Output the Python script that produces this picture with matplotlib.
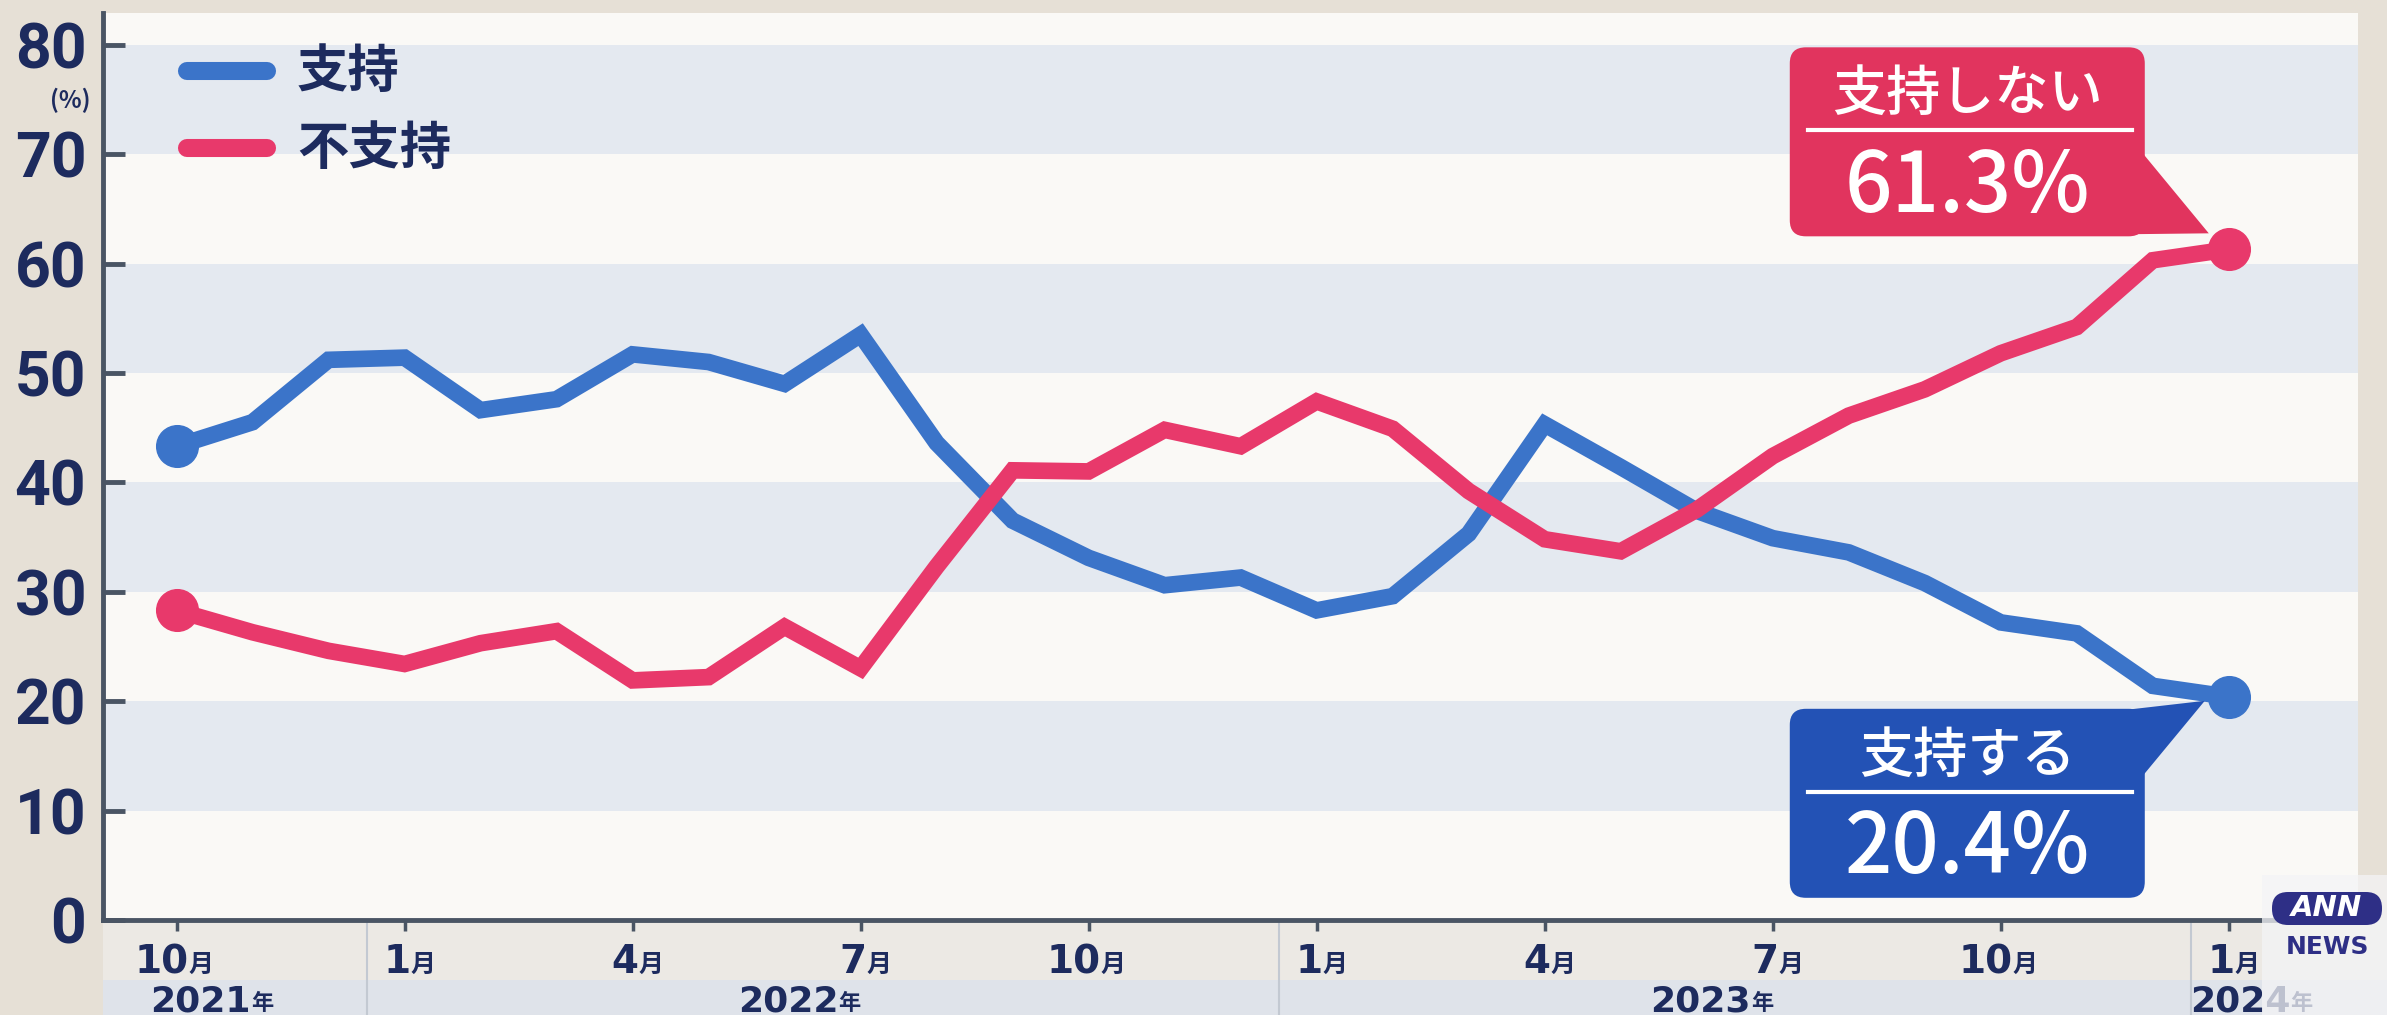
import numpy as np
import matplotlib
matplotlib.use("Agg")
import matplotlib.pyplot as plt
from matplotlib.lines import Line2D
from matplotlib.patches import FancyBboxPatch, Polygon, Rectangle
from matplotlib.transforms import IdentityTransform, blended_transform_factory

plt.rcParams['font.family'] = ['Noto Sans CJK JP', 'DejaVu Sans']

# monthly survey, Oct 2021 .. Jan 2024
month_nums = [10, 11, 12,
              1, 2, 3, 4, 5, 6, 7, 8, 9, 10, 11, 12,
              1, 2, 3, 4, 5, 6, 7, 8, 9, 10, 11, 12,
              1]
year_names = ["2021", "2022", "2023", "2024"]

support = [43.3, 45.5, 51.2, 51.4, 46.6, 47.6, 51.7, 51.0, 49.0, 53.5,
           43.6, 36.5, 33.1, 30.6, 31.3, 28.3, 29.6, 35.3, 45.3, 41.4,
           37.4, 34.9, 33.6, 30.8, 27.2, 26.2, 21.4, 20.4]
nonsupport = [28.3, 26.3, 24.6, 23.4, 25.3, 26.4, 21.9, 22.2, 26.8, 23.0,
              32.3, 41.1, 41.0, 44.8, 43.3, 47.4, 44.9, 39.2, 34.8, 33.7,
              37.5, 42.4, 46.1, 48.5, 51.8, 54.2, 60.3, 61.3]

series_names = ["支持", "不支持"]
callout_titles = ["支持する", "支持しない"]

BLUE = '#3b74c9'
RED = '#e8396b'
BLUE_BOX = '#2352b5'
RED_BOX = '#e1345e'
NAVY = '#1d2b5e'
AXIS = '#4a5564'
BAND = '#e4e9f0'
PAPER = '#faf9f6'

W, H = 2387, 1015
px = IdentityTransform()

fig = plt.figure(figsize=(W / 100, H / 100), dpi=100)
fig.patch.set_facecolor('#e6e0d6')

# strips under the x axis
fig.add_artist(Rectangle((103, 35), W - 103, 60, transform=px, fc='#ece9e4', ec='none', zorder=0))
fig.add_artist(Rectangle((103, 0), W - 103, 35, transform=px, fc='#dfe3ea', ec='none', zorder=0))

ax = fig.add_axes([103 / W, 95 / H, (2358 - 103) / W, (1002 - 95) / H])
x = np.arange(len(month_nums))
ax.set_xlim(-0.967, 28.7)
ax.set_ylim(0, 82.9)
ax.set_facecolor(PAPER)
for lo in range(10, 80, 20):
    ax.axhspan(lo, lo + 10, color=BAND, lw=0, zorder=0)

for vals, col in [(support, BLUE), (nonsupport, RED)]:
    vals = np.array(vals)
    ax.plot(x, vals, color=col, lw=12, solid_joinstyle='miter',
            solid_capstyle='round', zorder=3)
    ax.plot(x[[0, -1]], vals[[0, -1]], 'o', ms=30, color=col, zorder=4)

for side in ['top', 'right']:
    ax.spines[side].set_visible(False)
for side in ['left', 'bottom']:
    ax.spines[side].set_color(AXIS)
    ax.spines[side].set_linewidth(3.5)

ax.set_yticks(range(0, 81, 10))
ax.tick_params(axis='y', direction='in', length=16, width=3.5, color=AXIS,
               labelsize=45, labelcolor=NAVY, pad=12)
for lbl in ax.get_yticklabels():
    lbl.set_fontfamily('Roboto')
    lbl.set_fontweight('bold')

ticks = [i for i in x if month_nums[i] in (1, 4, 7, 10)]
ax.set_xticks(ticks)
ax.set_xticklabels([])
ax.tick_params(axis='x', direction='out', length=8, width=2.5, color=AXIS)

lbl_tr = blended_transform_factory(ax.transData, ax.transAxes)
for t in ticks:
    num = str(month_nums[t])
    shift = 6 * len(num)
    ax.annotate(num, xy=(t, 0), xycoords=lbl_tr, xytext=(shift, -42),
                textcoords='offset pixels', ha='right', va='center',
                fontsize=28, fontweight='bold', color=NAVY,
                family=['Liberation Sans Narrow', 'DejaVu Sans'])
    ax.annotate('月', xy=(t, 0), xycoords=lbl_tr, xytext=(shift, -45),
                textcoords='offset pixels', ha='left', va='center',
                fontsize=18, fontweight='bold', color=NAVY)

starts = [i for i in range(1, len(month_nums)) if month_nums[i] == 1]
edges = [ax.get_xlim()[0]] + [s - 0.5 for s in starts] + [ax.get_xlim()[1]]
for k, name in enumerate(year_names):
    c = (edges[k] + edges[k + 1]) / 2
    ax.annotate(name, xy=(c, 0), xycoords=lbl_tr, xytext=(16, -81),
                textcoords='offset pixels', ha='right', va='center',
                fontsize=26, fontweight='bold', color=NAVY,
                family=['Liberation Sans Narrow', 'DejaVu Sans'])
    ax.annotate('年', xy=(c, 0), xycoords=lbl_tr, xytext=(16, -84),
                textcoords='offset pixels', ha='left', va='center',
                fontsize=16, fontweight='bold', color=NAVY)
for s in starts:
    ax.add_line(Line2D([s - 0.5, s - 0.5], [0, -0.105], transform=lbl_tr,
                       color='#c3c9d2', lw=1.5, clip_on=False))

# legend
for k, (name, col) in enumerate(zip(series_names, [BLUE, RED])):
    yy = H - 71 - k * 77
    fig.add_artist(Line2D([187, 267], [yy, yy], transform=px, color=col,
                          lw=13, solid_capstyle='round'))
    fig.text(297, yy, name, transform=px, ha='left', va='center',
             fontsize=37, color=NAVY, fontweight='bold')
fig.text(90, H - 100, "(%)", transform=px, ha='right', va='center',
         fontsize=17, color=NAVY, fontweight='bold')

# call-outs on the last month
ends = [(support[-1], callout_titles[0], BLUE_BOX, -1),
        (nonsupport[-1], callout_titles[1], RED_BOX, 1)]
for val, title, col, side in ends:
    ptx, pty = ax.transData.transform((x[-1], val))
    left, right = ptx - 439, ptx - 84
    bottom = pty + 13 if side > 0 else pty - 201
    top = bottom + 189
    fig.add_artist(FancyBboxPatch((left, bottom), right - left, top - bottom,
                                  boxstyle='round,pad=0,rounding_size=16',
                                  transform=px, fc=col, ec='none', zorder=5))
    if side > 0:
        tri = [(right - 2, pty + 96), (right - 24, bottom + 2), (ptx - 20, pty + 16)]
    else:
        tri = [(right - 27, top - 2), (right - 2, pty - 79), (ptx - 24, pty - 4)]
    fig.add_artist(Polygon(tri, closed=True, transform=px, fc=col, ec='none', zorder=5))
    cx = (left + right) / 2
    fig.text(cx, top - 47, title, transform=px, ha='center', va='center',
             fontsize=39, color='white', fontweight='medium', zorder=6)
    fig.add_artist(Line2D([left + 18, right - 13], [top - 83, top - 83], transform=px,
                          color='white', lw=3, zorder=6))
    fig.text(cx, top - 141, f"{val:.1f}%", transform=px, ha='center', va='center',
             fontsize=60, color='white', fontweight='medium', zorder=6)

# broadcaster logo
fig.add_artist(Rectangle((2262, 0), W - 2262, 140, transform=px, fc='#f4f4f6',
                         ec='none', alpha=0.75, zorder=10))
fig.add_artist(FancyBboxPatch((2272, H - 925), 110, 33,
                              boxstyle='round,pad=0,rounding_size=16',
                              transform=px, fc='#2e2f86', ec='none', zorder=11))
fig.text(2327, H - 908, "ANN", transform=px, ha='center', va='center', fontsize=21,
         color='white', fontweight='bold', style='italic', family=['DejaVu Sans'], zorder=12)
fig.text(2327, H - 947, "NEWS", transform=px, ha='center', va='center', fontsize=18,
         color='#2e2f86', fontweight='bold', family=['DejaVu Sans'], zorder=12)

fig.savefig('out.png', dpi=100, facecolor=fig.get_facecolor())
